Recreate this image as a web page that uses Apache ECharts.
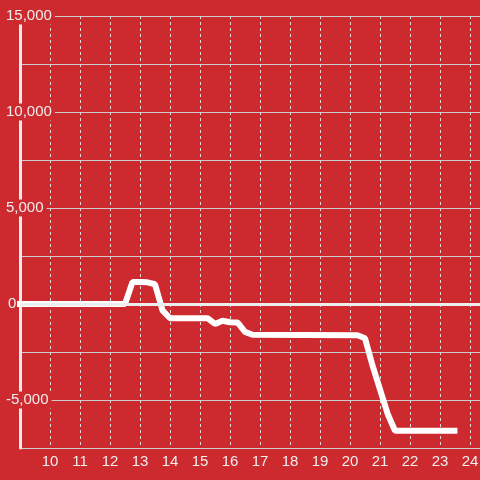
<!DOCTYPE html>
<html>
<head>
<meta charset="utf-8">
<script src="https://cdn.jsdelivr.net/npm/echarts@6/dist/echarts.min.js"></script>
<style>
  html, body { margin: 0; padding: 0; background: #cc2a2f; }
  #chart { width: 480px; height: 480px; }
</style>
</head>
<body>
<div id="chart"></div>
<script>
// Hours (x) and values (y)
const hours  = [8.9, 12.5, 12.75, 13.0, 13.25, 13.5, 13.75, 14.0, 15.25, 15.5, 15.75, 16.0, 16.25, 16.5, 16.75, 20.25, 20.5, 20.75, 21.0, 21.25, 21.5, 23.58];
const values = [0, 0, 1150, 1150, 1130, 1030, -330, -740, -740, -1040, -870, -950, -960, -1450, -1600, -1630, -1780, -3200, -4450, -5700, -6600, -6600];

const xTickValues = [10, 11, 12, 13, 14, 15, 16, 17, 18, 19, 20, 21, 22, 23, 24];
const yTickLabels = [-5000, 0, 5000, 10000, 15000];

const BG = '#cc2a2f';
const FONT = "'Liberation Sans', Arial, sans-serif";
const TEXT = '#eeeeee';

const seriesData = hours.map((h, i) => [h, values[i]]);

function fmtNum(v) {
  return v.toLocaleString('en-US');
}

const chart = echarts.init(document.getElementById('chart'), null, { renderer: 'canvas' });
chart.setOption({
  backgroundColor: BG,
  animation: false,
  grid: { left: 20, top: 16, right: -20, bottom: 32, containLabel: false, outerBoundsMode: 'none' },
  xAxis: {
    type: 'value',
    min: 9,
    max: 25,
    interval: 1,
    axisLine: { show: false },
    axisTick: { show: false },
    axisLabel: {
      color: TEXT,
      fontFamily: FONT,
      fontSize: 15,
      margin: 6,
      formatter: v => (xTickValues.indexOf(v) >= 0 ? String(v) : '')
    },
    splitLine: {
      show: true,
      lineStyle: { color: '#dddddd', width: 1, type: [3, 3] }
    }
  },
  yAxis: [
    {
      type: 'value',
      min: -7500,
      max: 15000,
      interval: 2500,
      position: 'left',
      axisLine: { show: true, onZero: false, lineStyle: { color: '#eeeeee', width: 3 } },
      axisTick: { show: false },
      axisLabel: { show: false },
      splitLine: { show: true, lineStyle: { color: '#cccccc', width: 1 } }
    },
    {
      type: 'value',
      min: -7500,
      max: 15000,
      interval: 2500,
      position: 'left',
      z: 5,
      axisLine: { show: false },
      axisTick: { show: false },
      splitLine: { show: false },
      axisLabel: {
        show: true,
        align: 'left',
        margin: 15,
        formatter: v => {
          if (yTickLabels.indexOf(v) < 0) return '';
          if (v === 0) return '{z|0}';
          return '{a|' + fmtNum(v) + '}';
        },
        rich: {
          a: { color: TEXT, fontFamily: FONT, fontSize: 15, lineHeight: 15, backgroundColor: BG, padding: [1, 3, 1, 1] },
          z: { color: TEXT, fontFamily: FONT, fontSize: 15, lineHeight: 15, padding: [1, 0, 1, 3] }
        }
      }
    }
  ],
  series: [
    {
      type: 'line',
      yAxisIndex: 0,
      data: seriesData,
      showSymbol: false,
      symbol: 'none',
      clip: false,
      lineStyle: { color: '#ffffff', width: 6 },
      z: 3,
      markLine: {
        silent: true,
        symbol: ['none', 'none'],
        label: { show: false },
        lineStyle: { color: '#eeeeee', width: 3, type: 'solid' },
        data: [{ yAxis: 0 }]
      }
    }
  ]
});
</script>
</body>
</html>
